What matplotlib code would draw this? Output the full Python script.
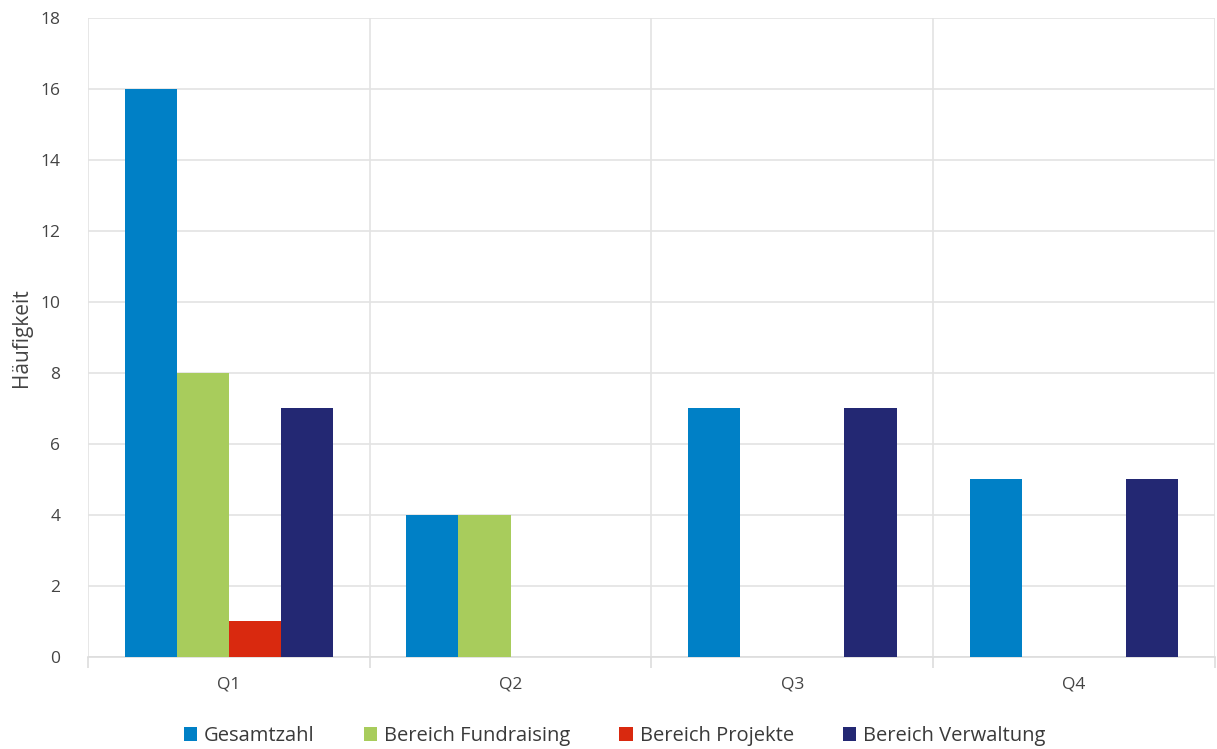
import numpy as np
import matplotlib.pyplot as plt

categories = ["Q1", "Q2", "Q3", "Q4"]
series = ["Gesamtzahl", "Bereich Fundraising", "Bereich Projekte", "Bereich Verwaltung"]
gesamt = [16, 4, 7, 5]
fundraising = [8, 4, 0, 0]
projekte = [1, 0, 0, 0]
verwaltung = [7, 0, 7, 5]
colors = ["#0080c6", "#a8cc5c", "#d9290f", "#232873"]

plt.rcParams["font.family"] = ["Open Sans", "DejaVu Sans"]
fig = plt.figure(figsize=(12.17, 7.49), dpi=100)
ax = fig.add_axes([0.0723, 0.123, 0.926, 0.853])

x = np.arange(len(categories))
w = 0.185
for i, (name, vals) in enumerate(zip(series, [gesamt, fundraising, projekte, verwaltung])):
    ax.bar(x + (i - 1.5) * w, vals, width=w, color=colors[i], label=name, zorder=3)

ax.set_xlim(-0.5, len(categories) - 0.5)
ax.set_ylim(0, 18)
ax.set_yticks(range(0, 19, 2))
ax.set_xticks(x)
ax.set_xticklabels(categories)
ax.set_xticks(np.arange(-0.5, len(categories)), minor=True)
ax.tick_params(axis="x", which="major", length=0, pad=14, labelsize=12.5, labelcolor="#444444")
ax.tick_params(axis="x", which="minor", length=8, color="#dddddd", width=1.2)
ax.tick_params(axis="y", length=0, pad=20, labelsize=12.5, labelcolor="#444444")
ax.grid(axis="y", color="#e3e3e3", linewidth=1.2, zorder=0)
ax.grid(axis="x", which="minor", color="#e3e3e3", linewidth=1.2, zorder=0)
for s in ["top", "right", "left"]:
    ax.spines[s].set_visible(False)
ax.spines["bottom"].set_color("#dddddd")
ax.spines["bottom"].set_linewidth(1.2)
ax.set_ylabel("Häufigkeit", fontsize=15, color="#444444", labelpad=6)

fig.legend(*ax.get_legend_handles_labels(), loc="center", bbox_to_anchor=(0.505, 0.017),
           ncol=4, frameon=False, fontsize=14.5, handlelength=0.65, handleheight=0.65,
           handletextpad=0.35, columnspacing=2.45, labelcolor="#3a3a3a",
           borderpad=0, borderaxespad=0)

fig.savefig("out.png", dpi=100)
